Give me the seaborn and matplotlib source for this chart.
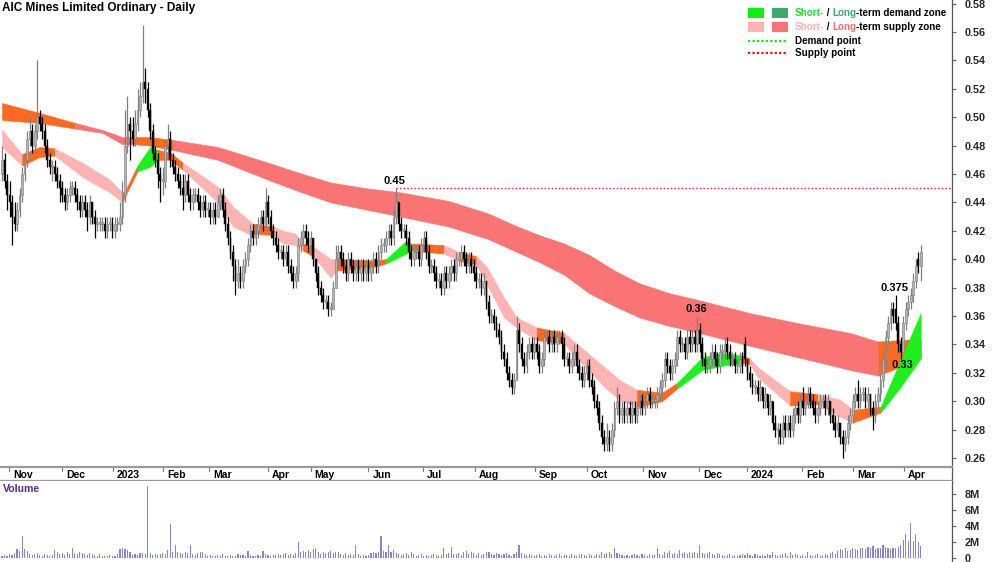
import numpy as np
import pandas as pd
import matplotlib
matplotlib.use("Agg")
import matplotlib.pyplot as plt
import seaborn as sns
from matplotlib.patches import Rectangle
from matplotlib.lines import Line2D

# ---------------- data (prices in cents, volume in 0.1M) ----------------
opens = [46, 47, 45.5, 44.5, 44, 43, 42.5, 43.5, 44.5, 46,
         47, 48.5, 49, 48, 49, 50, 49.5, 49, 48, 47,
         46.5, 46.5, 46, 45.5, 45, 44.5, 44, 44.5, 45, 45,
         44.5, 44, 43.5, 44, 43.5, 43, 44, 43, 42.5, 42.5,
         42.5, 42.5, 42, 42.5, 42.5, 42, 42.5, 42.5, 43, 44.5,
         48, 49.5, 49, 48.5, 49.5, 50.5, 51.5, 52.5, 52, 50.5,
         49, 47.5, 47, 46, 45.5, 45.5, 48, 48.5, 47, 46.5,
         46, 45.5, 45, 44.5, 45.5, 44.5, 44, 44.5, 44.5, 44,
         43.5, 44, 43.5, 43.5, 43, 43.5, 43, 44, 44.5, 43.5,
         42.5, 41.5, 40.5, 39.5, 38.5, 39, 38.5, 39.5, 40, 41,
         42, 41.5, 42, 42.5, 43, 42.5, 44, 43, 42, 41.5,
         41, 40.5, 40.5, 40, 40.5, 39.5, 39, 38.5, 39, 41,
         41.5, 42, 41.5, 41, 41.5, 40, 39, 38, 37.5, 37,
         37, 36.5, 36.5, 38, 40, 40.5, 40, 39.5, 39, 40,
         39.5, 39, 39.5, 39, 39.5, 39, 39.5, 39, 39.5, 40,
         39.5, 40.5, 41, 41, 41.5, 42, 41.5, 43, 44, 42.5,
         42, 42, 41.5, 40.5, 40, 40.5, 40.5, 40, 41, 41.5,
         40.5, 39.5, 39.5, 39, 38.5, 38.5, 38, 39, 38.5, 39,
         39.5, 39, 40, 40, 40.5, 40, 39.5, 40, 39.5, 39,
         38.5, 38.5, 38, 38.5, 37, 36, 36, 35.5, 35, 34.5,
         33.5, 33, 32, 31.5, 31, 31.5, 35, 34, 33, 32.5,
         33.5, 34, 33.5, 34, 33.5, 32.5, 33, 34.5, 34.5, 34,
         34.5, 34, 34.5, 34.5, 34, 33, 33, 32.5, 33, 33.5,
         32.5, 32, 31.5, 32, 32.5, 31.5, 31, 30, 29.5, 28.5,
         27.5, 27, 27.5, 27, 28, 29.5, 30, 29, 29.5, 29,
         29.5, 29, 29.5, 29, 29.5, 30, 29.5, 30, 30.5, 30,
         30, 30, 30.5, 31, 31.5, 33, 32.5, 32, 32.5, 33,
         34.5, 34, 34, 33.5, 34.5, 34, 34.5, 34, 35, 34,
         33, 32.5, 32.5, 33, 33.5, 33, 32.5, 33.5, 33.5, 34,
         33.5, 33, 33, 32.5, 32.5, 33, 34, 33, 32, 31.5,
         31, 31, 30.5, 31, 30, 30.5, 29.5, 30, 28.5, 28,
         28, 27.5, 28.5, 28, 28.5, 28, 29, 29.5, 29, 30,
         29.5, 30, 30.5, 30, 29.5, 29, 29.5, 30, 30, 29.5,
         30, 29, 28.5, 28, 28.5, 27.5, 27, 27.5, 28.5, 29,
         30, 30.5, 30, 30.5, 30.5, 30, 30.5, 29.5, 29, 30,
         30.5, 31.5, 33, 34.5, 35.5, 36.5, 36.5, 35.5, 34, 33.5,
         35.5, 36.5, 37, 37.5, 38.5, 40, 39.5]
highs = [48, 47.5, 46, 45.5, 44.5, 44, 44, 45, 46.5, 47.5,
         49, 50, 49.5, 49.5, 54, 50.5, 50, 49.5, 48.5, 47.5,
         47, 47, 46.5, 46, 45.5, 45, 45, 45.5, 45.5, 45.5,
         45, 44.5, 44.5, 44.5, 44, 44.5, 44, 43.5, 43, 43,
         43, 43, 43, 43, 43, 43, 43, 44, 45.5, 50.5,
         51.5, 50, 50, 50.5, 52, 52.5, 56.5, 53.5, 52.5, 51,
         49.5, 48, 47.5, 46.5, 46.5, 48.5, 49.5, 49, 47.5, 47,
         46.5, 46, 46, 46, 46, 45, 45, 45, 45, 44.5,
         44.5, 44.5, 44, 44, 44, 44, 44.5, 45, 45, 44,
         43, 42, 41, 40, 40, 39.5, 40, 40.5, 41.5, 42.5,
         42.5, 42.5, 43, 43.5, 43.5, 45, 44.5, 43.5, 42.5, 42,
         41.5, 41, 41, 41, 41, 40, 39.5, 39.5, 41.5, 42,
         42.5, 42.5, 42, 42, 41.5, 40, 39.5, 38.5, 38, 37.5,
         37.5, 37, 38.5, 41, 41, 41, 40.5, 40, 40.5, 40.5,
         40, 40, 40, 40, 40, 40, 40, 40, 40.5, 40.5,
         41, 41.5, 41.5, 42, 42.5, 42.5, 43.5, 45, 44, 43,
         42.5, 42.5, 42, 41, 41, 41, 41, 41.5, 42, 42,
         41, 40, 40, 39.5, 39, 39, 39.5, 39.5, 39.5, 40,
         40, 40.5, 40.5, 41, 41, 40.5, 40.5, 40.5, 40, 39.5,
         39, 39, 39, 38.5, 37.5, 36.5, 36.5, 36, 35.5, 35,
         34, 33.5, 32.5, 32, 32, 36, 35.5, 34.5, 33.5, 34,
         34.5, 34.5, 34.5, 34.5, 34, 33.5, 35, 35, 35, 35,
         35, 35, 35, 35, 34.5, 33.5, 33.5, 33.5, 34, 34,
         33, 32.5, 32.5, 33, 33, 32, 31.5, 30.5, 30, 29,
         28, 28.5, 28, 28.5, 30, 31, 30.5, 30, 30, 30,
         30, 30, 30, 30, 30.5, 30.5, 30.5, 31, 31, 30.5,
         30.5, 31, 31.5, 32, 33.5, 33.5, 33, 33, 33.5, 35,
         35, 34.5, 34.5, 35, 35, 35, 35, 36, 35.5, 34.5,
         33.5, 33, 33.5, 34, 34, 33.5, 34, 34, 34.5, 34.5,
         34, 33.5, 33.5, 33, 33.5, 33.5, 34.5, 33, 32.5, 32,
         31.5, 31.5, 31.5, 31, 31, 30.5, 30.5, 30, 29, 28.5,
         28.5, 29, 29, 29, 29, 29.5, 30, 30, 30.5, 31,
         30.5, 31, 31, 30.5, 30, 30, 30.5, 30.5, 30.5, 30.5,
         30, 29.5, 29, 29, 28.5, 28, 28, 29, 29.5, 30.5,
         31, 31.5, 31, 31, 31, 31, 30.5, 30, 30.5, 31,
         32, 33.5, 35, 36, 37, 37, 37.5, 36, 34.5, 36,
         37, 37.5, 38, 39, 40, 40.5, 41]
lows = [45.5, 45, 43.5, 43, 41, 42, 42, 43, 44, 45.5,
        46.5, 48, 47.5, 47.5, 48.5, 49, 48.5, 47.5, 46.5, 46,
        45.5, 45.5, 45, 44, 44, 43.5, 43.5, 44, 44.5, 44,
        43.5, 43, 43, 43, 42, 42.5, 42.5, 41.5, 42, 42,
        42, 41.5, 41.5, 42, 41.5, 41.5, 42, 42, 42.5, 44,
        47.5, 47, 48, 48, 49, 50, 51, 51, 50, 48.5,
        47, 46.5, 45, 44, 44.5, 45, 47.5, 46.5, 46, 45.5,
        45, 44.5, 43.5, 44, 44, 43.5, 43.5, 44, 43.5, 43,
        43, 43, 43, 42.5, 42.5, 42.5, 43, 43.5, 43, 42,
        41, 40, 38.5, 37.5, 38, 38, 38, 39, 39.5, 40.5,
        41, 41, 41.5, 42, 42, 42, 42.5, 41.5, 41, 40.5,
        40, 40, 39.5, 39.5, 39, 38.5, 38, 38, 38.5, 40.5,
        41, 41, 40.5, 40.5, 39.5, 38.5, 37.5, 37, 36.5, 36.5,
        36, 36, 36.5, 38, 39.5, 39.5, 39, 38.5, 38.5, 39,
        38.5, 38.5, 38.5, 38.5, 38.5, 38.5, 38.5, 38.5, 39, 39,
        39, 40, 40.5, 40.5, 41, 41, 41, 42.5, 42, 41.5,
        41.5, 41, 40, 39.5, 39.5, 40, 39.5, 39.5, 40.5, 40,
        39, 39, 38.5, 38, 38, 37.5, 37.5, 38, 38, 38.5,
        38.5, 38.5, 39.5, 39.5, 39.5, 39, 39, 39, 38.5, 38,
        38, 37.5, 37.5, 36.5, 35.5, 35.5, 35, 34.5, 34, 33,
        32.5, 31.5, 31, 30.5, 30.5, 31.5, 33.5, 32.5, 32, 32,
        33, 33, 33, 33, 32, 32, 32.5, 34, 33.5, 33.5,
        33.5, 33.5, 34, 33, 32.5, 32.5, 32, 32, 32.5, 32,
        31.5, 31, 31, 31.5, 31, 30.5, 29.5, 29, 28, 27,
        26.5, 26.5, 26.5, 26.5, 27.5, 29, 28.5, 28.5, 28.5, 28.5,
        28.5, 28.5, 28.5, 28.5, 29, 29, 29, 29.5, 29.5, 29.5,
        29.5, 29.5, 30, 30.5, 31, 32, 31.5, 31.5, 32, 32.5,
        33.5, 33.5, 33, 33, 33.5, 33.5, 33.5, 33.5, 33.5, 32.5,
        32, 32, 32, 32.5, 32.5, 32, 32, 33, 33, 33,
        32.5, 32.5, 32, 32, 32, 32, 32.5, 31.5, 31, 30.5,
        30.5, 30, 30, 29.5, 29.5, 29, 29, 28, 27.5, 27,
        27, 27, 27.5, 27.5, 27.5, 27.5, 28.5, 28.5, 28.5, 29,
        29, 29.5, 29.5, 29, 28.5, 28.5, 29, 29.5, 29, 29,
        28.5, 28, 27.5, 27.5, 27, 26, 26.5, 27, 28, 28.5,
        29.5, 29.5, 29.5, 30, 29.5, 29.5, 29, 28, 28.5, 29.5,
        30, 31, 32.5, 34, 35, 35.5, 35, 33.5, 33, 33.5,
        35, 36, 36.5, 37, 38, 39, 38.5]
closes = [47, 45.5, 44.5, 44, 43, 42.5, 43.5, 44.5, 46, 47,
          48.5, 49, 48, 49, 50, 49.5, 49, 48, 47, 46.5,
          46.5, 46, 45.5, 45, 44.5, 44, 44.5, 45, 45, 44.5,
          44, 43.5, 44, 43.5, 43, 44, 43, 42.5, 42.5, 42.5,
          42.5, 42, 42.5, 42.5, 42, 42.5, 42.5, 43, 44.5, 48,
          49.5, 49, 48.5, 49.5, 50.5, 51.5, 52.5, 52, 50.5, 49,
          47.5, 47, 46, 45.5, 45.5, 48, 48.5, 47, 46.5, 46,
          45.5, 45, 44.5, 45.5, 44.5, 44, 44.5, 44.5, 44, 43.5,
          44, 43.5, 43.5, 43, 43.5, 43, 44, 44.5, 43.5, 42.5,
          41.5, 40.5, 39.5, 38.5, 39, 38.5, 39.5, 40, 41, 42,
          41.5, 42, 42.5, 43, 42.5, 44, 43, 42, 41.5, 41,
          40.5, 40.5, 40, 40.5, 39.5, 39, 38.5, 39, 41, 41.5,
          42, 41.5, 41, 41.5, 40, 39, 38, 37.5, 37, 37,
          36.5, 36.5, 38, 40, 40.5, 40, 39.5, 39, 40, 39.5,
          39, 39.5, 39, 39.5, 39, 39.5, 39, 39.5, 40, 39.5,
          40.5, 41, 41, 41.5, 42, 41.5, 43, 44, 42.5, 42,
          42, 41.5, 40.5, 40, 40.5, 40.5, 40, 41, 41.5, 40.5,
          39.5, 39.5, 39, 38.5, 38.5, 38, 39, 38.5, 39, 39.5,
          39, 40, 40, 40.5, 40, 39.5, 40, 39.5, 39, 38.5,
          38.5, 38, 38.5, 37, 36, 36, 35.5, 35, 34.5, 33.5,
          33, 32, 31.5, 31, 31.5, 35, 34, 33, 32.5, 33.5,
          34, 33.5, 34, 33.5, 32.5, 33, 34.5, 34.5, 34, 34.5,
          34, 34.5, 34.5, 34, 33, 33, 32.5, 33, 33.5, 32.5,
          32, 31.5, 32, 32.5, 31.5, 31, 30, 29.5, 28.5, 27.5,
          27, 27.5, 27, 28, 29.5, 30, 29, 29.5, 29, 29.5,
          29, 29.5, 29, 29.5, 30, 29.5, 30, 30.5, 30, 30,
          30, 30.5, 31, 31.5, 33, 32.5, 32, 32.5, 33, 34.5,
          34, 34, 33.5, 34.5, 34, 34.5, 34, 35, 34, 33,
          32.5, 32.5, 33, 33.5, 33, 32.5, 33.5, 33.5, 34, 33.5,
          33, 33, 32.5, 32.5, 33, 32.5, 33, 32, 31.5, 31,
          31, 30.5, 31, 30, 30.5, 29.5, 30, 28.5, 28, 28,
          27.5, 28.5, 28, 28.5, 28, 29, 29.5, 29, 30, 29.5,
          30, 30.5, 30, 29.5, 29, 29.5, 30, 30, 29.5, 30,
          29, 28.5, 28, 28.5, 27.5, 27, 27.5, 28.5, 29, 30,
          30.5, 30, 30.5, 30.5, 30, 30.5, 29.5, 29, 30, 30.5,
          31.5, 33, 34.5, 35.5, 36.5, 36, 35.5, 34, 33.5, 35.5,
          36.5, 37, 37.5, 38.5, 39.5, 39.5, 40.5]
volumes = [3, 4, 3, 5, 4, 6, 11, 9, 27, 11,
           9, 5, 4, 5, 6, 4, 3, 5, 4, 3,
           4, 10, 8, 5, 6, 4, 7, 5, 13, 6,
           5, 7, 6, 5, 4, 6, 5, 4, 3, 5,
           3, 2, 3, 4, 3, 2, 5, 11, 12, 11,
           10, 7, 4, 5, 4, 6, 6, 5, 90, 6,
           4, 5, 4, 5, 6, 5, 10, 42, 7, 16,
           7, 6, 5, 7, 6, 16, 5, 4, 6, 8,
           8, 5, 3, 4, 3, 3, 4, 3, 5, 3,
           3, 4, 2, 3, 5, 4, 4, 3, 9, 4,
           3, 2, 4, 3, 9, 5, 4, 3, 4, 4,
           5, 4, 5, 6, 4, 5, 4, 6, 20, 8,
           9, 7, 10, 8, 11, 12, 7, 5, 8, 6,
           7, 9, 6, 8, 7, 5, 4, 6, 4, 5,
           4, 16, 5, 3, 4, 2, 4, 6, 7, 6,
           8, 27, 9, 7, 16, 8, 10, 6, 5, 4,
           5, 6, 4, 7, 5, 3, 4, 5, 3, 4,
           3, 4, 5, 4, 3, 4, 13, 5, 6, 14,
           5, 5, 6, 4, 7, 9, 5, 8, 6, 4,
           6, 4, 5, 7, 8, 5, 4, 6, 5, 4,
           5, 6, 4, 3, 5, 7, 16, 6, 5, 4,
           5, 4, 3, 4, 5, 3, 4, 3, 5, 4,
           3, 4, 5, 3, 4, 4, 3, 5, 4, 3,
           4, 5, 4, 3, 5, 4, 3, 5, 4, 7,
           5, 6, 8, 5, 13, 6, 5, 4, 3, 4,
           3, 4, 5, 4, 3, 5, 4, 3, 5, 4,
           4, 13, 5, 4, 8, 6, 9, 5, 6, 5,
           10, 6, 7, 5, 8, 6, 7, 6, 16, 6,
           5, 6, 7, 5, 4, 6, 5, 4, 3, 4,
           5, 3, 4, 3, 4, 5, 4, 6, 4, 3,
           5, 4, 3, 4, 3, 5, 4, 7, 4, 3,
           4, 5, 6, 3, 7, 4, 5, 4, 3, 4,
           3, 8, 4, 3, 4, 5, 3, 4, 5, 4,
           6, 7, 5, 9, 11, 10, 12, 9, 10, 12,
           11, 10, 12, 13, 11, 14, 12, 15, 11, 12,
           13, 16, 14, 12, 11, 13, 12, 14, 16, 23,
           30, 21, 44, 21, 30, 20, 15]

# long-term band (trading-day index, top, bottom in cents, zone per segment)
long_days = [0, 15, 29, 40, 48, 53, 59, 68, 86, 106, 118, 131, 145, 159, 178, 194,
             204, 214, 224, 234, 244, 254, 266, 278, 298, 317, 338, 349, 366]
long_top = [51.0, 50.3, 49.6, 49.1, 48.6, 48.6, 48.6, 48.4, 47.9, 46.8, 46.1, 45.4,
            45.0, 44.7, 44.1, 43.2, 42.4, 41.7, 41.1, 40.3, 39.2, 38.3, 37.6, 37.1,
            36.2, 35.5, 34.8, 34.2, 34.4]
long_bot = [49.8, 49.6, 49.2, 48.9, 48.1, 48.1, 48.0, 47.7, 47.0, 45.6, 44.8, 44.0,
            43.5, 43.0, 42.3, 41.4, 40.6, 39.8, 38.9, 37.6, 36.7, 35.9, 35.3, 34.8,
            33.9, 33.1, 32.2, 31.8, 33.0]
long_zone = "NNSSSNN" + "SSSSSSSSSS" + "SSSSSSSSSS" + "N"

# short-term band
short_days = [0, 8, 15, 21, 32, 43, 48, 49, 54, 59, 62, 67, 72, 86, 92, 98, 100,
              108, 112, 117, 120, 124, 131, 133, 147, 153, 161, 163, 176, 182, 189,
              193, 200, 205, 213, 224, 226, 240, 246, 253, 263, 269, 279, 287, 295,
              298, 301, 314, 325, 334, 339, 350, 358, 366]
short_top = [49.1, 47.4, 47.9, 47.8, 46.8, 45.6, 44.7, 44.8, 46.6, 47.9, 47.7, 47.5,
             46.8, 45.1, 43.7, 42.8, 42.5, 42.3, 42.0, 41.8, 41.1, 40.9, 40.0, 40.0,
             39.9, 40.0, 41.3, 41.1, 41.0, 40.5, 40.2, 39.5, 37.3, 35.9, 35.2, 34.8,
             34.5, 32.4, 31.5, 30.8, 30.6, 31.3, 33.1, 33.4, 33.2, 33.0, 32.4, 30.7,
             30.5, 30.1, 29.4, 29.6, 32.9, 36.2]
short_bot = [47.9, 46.6, 47.2, 47.3, 45.8, 44.7, 44.0, 44.4, 46.2, 46.5, 47.0, 47.0,
             46.3, 44.0, 42.3, 41.8, 41.8, 41.7, 41.1, 41.0, 40.6, 40.2, 38.7, 39.2,
             39.4, 39.7, 40.4, 40.6, 40.4, 39.9, 39.6, 38.3, 35.9, 35.2, 34.3, 34.1,
             33.6, 31.0, 30.1, 29.6, 30.0, 30.9, 32.2, 32.5, 32.7, 32.6, 31.7, 29.7,
             29.8, 28.9, 28.5, 29.2, 31.0, 33.0]
short_zone = "SNNSSSNNDDNNSSSSNSSSNSSNNDDNSNSSSSNSSSSNNDDDNSSNSSNDD"

month_labels = ["Nov", "Dec", "2023", "Feb", "Mar", "Apr", "May", "Jun", "Jul", "Aug",
                "Sep", "Oct", "Nov", "Dec", "2024", "Feb", "Mar", "Apr"]
month_pos = [2.8, 23.9, 44.2, 64.1, 82.5, 106, 123, 146, 167.7, 188.4,
             212.4, 233, 255.4, 277.7, 296.8, 318.7, 339, 359.4]

ann_days = [157, 277, 356, 358]
ann_values = [0.45, 0.36, 0.375, 0.33]
ann_side = ["high", "high", "high", "low"]
supply_point_day = 157
supply_point_value = 0.45

price_ticks = [0.26, 0.28, 0.30, 0.32, 0.34, 0.36, 0.38, 0.40, 0.42, 0.44, 0.46,
               0.48, 0.50, 0.52, 0.54, 0.56, 0.58]
vol_ticks = [0, 2e6, 4e6, 6e6, 8e6]
vol_tick_labels = ["0", "2M", "4M", "6M", "8M"]

# ---------------- style ----------------
sns.set_theme(style="white")
plt.rcParams['font.family'] = ['Liberation Sans', 'DejaVu Sans']
plt.rcParams['font.weight'] = 'bold'

n = min(len(opens), len(highs), len(lows), len(closes), len(volumes))
o = np.array(opens[:n]) / 100.0
h = np.array(highs[:n]) / 100.0
l = np.array(lows[:n]) / 100.0
c = np.array(closes[:n]) / 100.0
v = np.array(volumes[:n]) * 1e5
x = np.arange(n)
h = np.maximum(h, np.maximum(o, c))
l = np.minimum(l, np.minimum(o, c))

W, H = 1000, 562
fig = plt.figure(figsize=(W / 100, H / 100), dpi=100)
fig.patch.set_facecolor("white")

def fx(px):
    return px / W

def fy(py):
    return 1 - py / H

XL = (-2 / 2.51, (952 - 2) / 2.51)
AXR = 952 / W

ax = fig.add_axes([0, fy(467), AXR, 467 / H])
axs = fig.add_axes([0, fy(481), AXR, 14 / H])
axv = fig.add_axes([0, 0, AXR, 81 / H])

# ---- bands ----
SHORT_COL = {"S": "#FFB4B4", "N": "#FF6A22", "D": "#1EF01E"}
LONG_COL = {"S": "#FA7474", "N": "#FF6A22", "D": "#3CAA6E"}

def draw_band(axis, days, top, bot, zones, palette):
    days = np.asarray(days, float)
    top = np.asarray(top) / 100.0
    bot = np.asarray(bot) / 100.0
    m = min(len(zones), len(days) - 1)
    k = 0
    while k < m:
        j = k
        while j + 1 < m and zones[j + 1] == zones[k]:
            j += 1
        sl = slice(k, j + 2)
        col = palette[zones[k]]
        axis.fill_between(days[sl], bot[sl], top[sl], color=col, lw=0.4,
                          edgecolor=col, zorder=1)
        k = j + 1

draw_band(ax, long_days, long_top, long_bot, long_zone, LONG_COL)
draw_band(ax, short_days, short_top, short_bot, short_zone, SHORT_COL)

# ---- supply point ----
ax.plot([supply_point_day, XL[1]], [supply_point_value] * 2, ls=(0, (1, 1.6)),
        color="#EE2020", lw=1.0, zorder=2)

# ---- candles ----
up = c >= o
ax.vlines(x[up], l[up], h[up], color="#808080", lw=0.9, zorder=3)
ax.vlines(x[~up], l[~up], h[~up], color="#000000", lw=0.9, zorder=3)
bb = np.minimum(o, c)
bh = np.maximum(np.abs(c - o), 0.0012)
ax.bar(x[up], bh[up], bottom=bb[up], width=0.72, color="#B4B4B4",
       edgecolor="#7A7A7A", linewidth=0.4, zorder=4)
ax.bar(x[~up], bh[~up], bottom=bb[~up], width=0.72, color="#000000",
       edgecolor="#000000", linewidth=0.3, zorder=4)

# ---- annotations ----
for d, val, side in zip(ann_days, ann_values, ann_side):
    txt = ("%.3f" % val).rstrip("0")
    if side == "high":
        ax.text(d - 0.5, val + 0.0012, txt, ha="center", va="bottom", fontsize=8,
                fontweight="bold", color="black", zorder=6)
    else:
        ax.text(d + 0.5, val - 0.0012, txt, ha="center", va="top", fontsize=8,
                fontweight="bold", color="black", zorder=6)

ax.set_xlim(*XL)
ax.set_ylim(0.26 - 9 / 1420, 0.26 + 458 / 1420)
ax.yaxis.tick_right()
ax.set_yticks(price_ticks)
ax.set_yticklabels(["%.2f" % t for t in price_ticks])
ax.tick_params(axis="y", which="both", right=True, left=False, length=3, width=0.8,
               color="#666666", labelsize=7.8, pad=6, direction="out")
ax.set_xticks([])
for s in ["left", "top", "bottom"]:
    ax.spines[s].set_visible(False)
ax.spines["right"].set_color("#555555")
ax.spines["right"].set_linewidth(0.9)
for t in ax.get_yticklabels():
    t.set_fontweight("bold")
ax.set_facecolor("white")

# ---- month strip ----
axs.set_xlim(*XL)
axs.set_ylim(0, 1)
axs.set_xticks([])
axs.set_yticks([])
axs.spines["left"].set_visible(False)
for s in ["top", "bottom"]:
    axs.spines[s].set_color("#9A9A9A")
    axs.spines[s].set_linewidth(1.6)
axs.spines["right"].set_color("#555555")
axs.spines["right"].set_linewidth(0.9)
for p, lab in zip(month_pos, month_labels):
    axs.plot([p, p], [1, 0.72], color="#777777", lw=0.8, clip_on=False)
    axs.text(p + 1.6, 0.42, lab, ha="left", va="center", fontsize=7.5,
             fontweight="bold", color="black")

# ---- volume (seaborn) ----
vol_df = pd.DataFrame({"day": x, "vol": v})
sns.barplot(data=vol_df, x="day", y="vol", native_scale=True, color="#8585CC",
            saturation=1, width=0.45, errorbar=None, linewidth=0, ax=axv)
axv.set_xlim(*XL)
axv.set_ylim(-0.5e6, 9.625e6)
axv.set_xlabel("")
axv.set_ylabel("")
axv.set_xticks([])
axv.yaxis.tick_right()
axv.set_yticks(vol_ticks)
axv.set_yticklabels(vol_tick_labels)
axv.tick_params(axis="y", right=True, left=False, length=3, width=0.8, color="#666666",
                labelsize=7.8, pad=6, direction="out")
for s in ["left", "top", "bottom"]:
    axv.spines[s].set_visible(False)
axv.spines["right"].set_color("#555555")
axv.spines["right"].set_linewidth(0.9)
for t in axv.get_yticklabels():
    t.set_fontweight("bold")
axv.grid(False)
ax.grid(False)

fig.text(fx(3), fy(489), "Volume", color="#5A2A84", fontsize=7.6, fontweight="bold",
         ha="left", va="center")

# ---- title ----
fig.text(fx(2), fy(8), "AIC Mines Limited Ordinary - Daily", fontsize=8.5,
         fontweight="bold", ha="left", va="center", color="black")

# ---- legend ----
renderer = fig.canvas.get_renderer()

def rich(xpx, ypx, parts, size=7.1):
    xx = fx(xpx)
    for s, col in parts:
        t = fig.text(xx, fy(ypx), s, color=col, fontsize=size, fontweight="bold",
                     ha="left", va="center")
        ext = t.get_window_extent(renderer=renderer)
        xx += ext.width / fig.bbox.width

def sq(x0, y0, col):
    fig.patches.append(Rectangle((fx(x0), fy(y0 + 10)), 16 / W, 10 / H,
                                 transform=fig.transFigure, facecolor=col,
                                 edgecolor="none"))

sq(748, 8, "#11EE11")
sq(772, 8, "#3CAA6E")
sq(748, 22, "#FFB4B4")
sq(772, 22, "#FA7474")
rich(795, 13, [("Short-", "#22DD22"), (" / ", "black"), ("Long", "#3CAA6E"),
               ("-term demand zone", "black")])
rich(795, 27, [("Short-", "#FFB0B0"), (" / ", "black"), ("Long", "#FA7070"),
               ("-term supply zone", "black")])
fig.lines.append(Line2D([fx(748), fx(786)], [fy(41), fy(41)], transform=fig.transFigure,
                        color="#22DD22", lw=1.6, ls=(0, (1, 1))))
fig.lines.append(Line2D([fx(748), fx(786)], [fy(53), fy(53)], transform=fig.transFigure,
                        color="#EE1111", lw=1.6, ls=(0, (1, 1))))
rich(795, 41, [("Demand point", "black")])
rich(795, 53, [("Supply point", "black")])

fig.savefig("out.png", dpi=100, facecolor="white")
